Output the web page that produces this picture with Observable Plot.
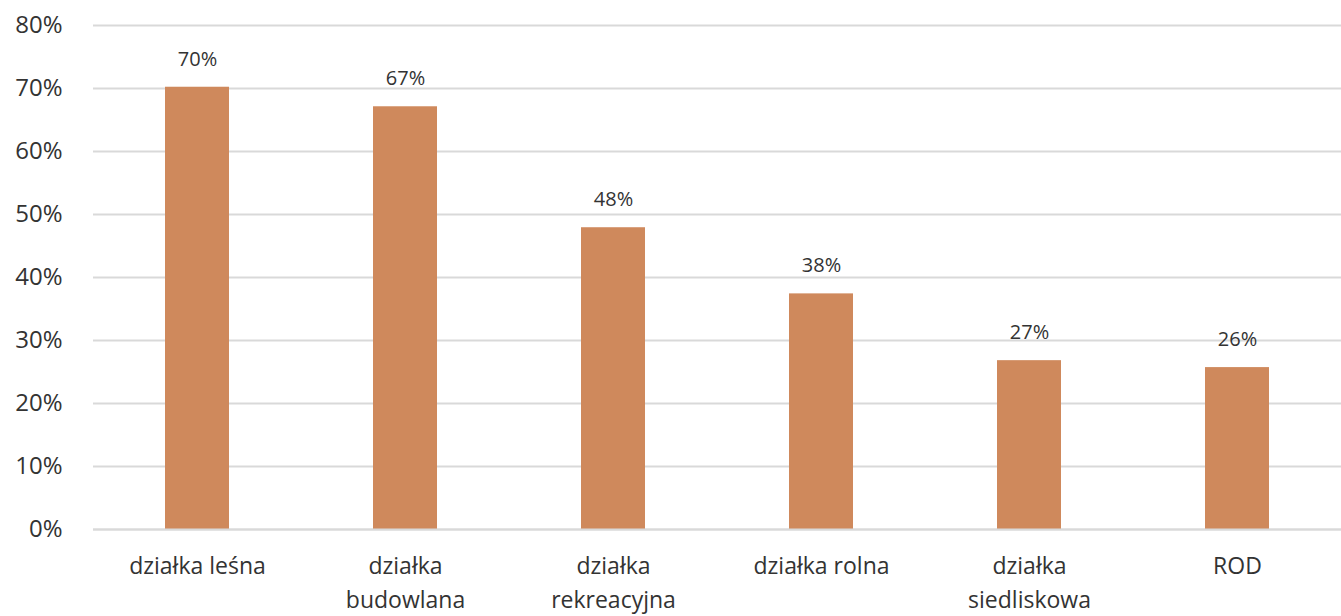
<!DOCTYPE html>
<html>
<head>
<meta charset="utf-8">
<script src="https://cdn.jsdelivr.net/npm/d3@7"></script>
<script src="https://cdn.jsdelivr.net/npm/@observablehq/plot@0.6"></script>
<style>
  html, body { margin: 0; padding: 0; background: #fff; }
  #chart svg { display: block; }
</style>
</head>
<body>
<div id="chart"></div>
<script>
const categories = ["działka leśna", "działka budowlana", "działka rekreacyjna", "działka rolna", "działka siedliskowa", "ROD"];
const tickLabels = ["działka leśna", "działka\nbudowlana", "działka\nrekreacyjna", "działka rolna", "działka\nsiedliskowa", "ROD"];
const values = [0.702, 0.671, 0.479, 0.374, 0.268, 0.257];
const barLabels = ["70%", "67%", "48%", "38%", "27%", "26%"];
const yTicks = [0, 0.1, 0.2, 0.3, 0.4, 0.5, 0.6, 0.7, 0.8];

const data = categories.map((c, i) => ({category: c, value: values[i], label: barLabels[i]}));
const tickMap = new Map(categories.map((c, i) => [c, tickLabels[i]]));

const chart = Plot.plot({
  width: 1341,
  height: 616,
  marginTop: 25,
  marginBottom: 87,
  marginLeft: 93,
  marginRight: 0,
  style: {fontFamily: "'Open Sans', sans-serif", color: "#333", background: "#fff"},
  x: {domain: categories, paddingInner: 0.69, paddingOuter: 0.345, label: null},
  y: {domain: [0, 0.8], label: null},
  marks: [
    Plot.gridY(yTicks, {stroke: "#d9d9d9", strokeOpacity: 1, strokeWidth: 2}),
    Plot.barY(data, {x: "category", y: "value", fill: "#cf895c"}),
    Plot.ruleY([0], {stroke: "#d9d9d9", strokeWidth: 2}),
    Plot.text(data, {x: "category", y: "value", text: "label", dy: -28, fontSize: 20, fill: "#333"}),
    Plot.axisY({ticks: yTicks, tickFormat: d => Math.round(d * 100) + "%", tickSize: 0, tickPadding: 31, fontSize: 24, fill: "#333", label: null}),
    Plot.axisX({tickFormat: d => tickMap.get(d), tickSize: 0, tickPadding: 20, fontSize: 23, lineHeight: 1.5, fill: "#333", label: null})
  ]
});
document.getElementById("chart").appendChild(chart);
</script>
</body>
</html>
